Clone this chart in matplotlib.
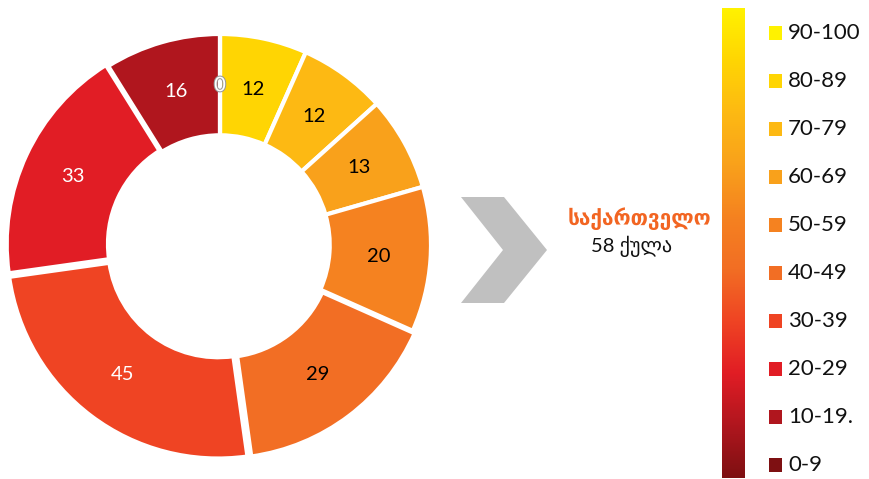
import matplotlib.pyplot as plt
import matplotlib.patheffects as pe
import numpy as np
from matplotlib.colors import LinearSegmentedColormap
from matplotlib.patches import Polygon

plt.rcParams['font.family'] = ['Lato', 'DejaVu Sans']

# score bands, top of the legend first
bands = ['90-100', '80-89', '70-79', '60-69', '50-59',
         '40-49', '30-39', '20-29', '10-19.', '0-9']
counts = [0, 12, 12, 13, 20, 29, 45, 33, 16, 0]
colors = ['#FFF200', '#FFD503', '#FDB913', '#F9A11B', '#F58220',
          '#F26E24', '#EF4423', '#E11D25', '#B0161E', '#7E1012']
label_colors = ['white', 'black', 'black', 'black', 'black',
                'black', 'white', 'white', 'white', 'white']
explode = [0, 0, 0, 0, 0, 0.015, 0.015, 0.012, 0, 0]

country = 'საქართველო'
score_text = '58 ქულა'

W, H = 869, 479
fig = plt.figure(figsize=(W / 100, H / 100), dpi=100)

# donut
cx, cy, R = 220, 245, 211
lim = 1.06
ax = fig.add_axes([(cx - R * lim) / W, (H - cy - R * lim) / H,
                   2 * R * lim / W, 2 * R * lim / H])
wedges, _ = ax.pie(counts, colors=colors, startangle=90, counterclock=False,
                   explode=explode, radius=1.0,
                   wedgeprops=dict(width=0.48, edgecolor='white', linewidth=3))
ax.set_xlim(-lim, lim)
ax.set_ylim(-lim, lim)
ax.set_aspect('equal')
ax.axis('off')

zero_done = False
for w, n, tc in zip(wedges, counts, label_colors):
    if n == 0:
        if zero_done:
            continue
        zero_done = True
    ang = np.deg2rad((w.theta1 + w.theta2) / 2)
    r = 0.755
    cxw, cyw = w.center
    t = ax.text(cxw + r * np.cos(ang), cyw + r * np.sin(ang), str(n),
                ha='center', va='center', fontsize=14.5, color=tc)
    if n == 0:
        t.set_path_effects([pe.withStroke(linewidth=1.5, foreground='#999999')])

# chevron arrow
arrow = Polygon([(461 / W, 1 - 197 / H), (504 / W, 1 - 197 / H),
                 (547 / W, 1 - 250 / H), (504 / W, 1 - 303 / H),
                 (461 / W, 1 - 303 / H), (503 / W, 1 - 250 / H)],
                closed=True, transform=fig.transFigure,
                facecolor='#C0C0C0', edgecolor='none')
fig.patches.append(arrow)

fig.text(639 / W, 1 - 219 / H, country, ha='center', va='center',
         fontsize=15, color='#F26522', fontweight='bold')
fig.text(632 / W, 1 - 246 / H, score_text, ha='center', va='center',
         fontsize=14.5, color='#111111')

# gradient bar
cax = fig.add_axes([722 / W, (H - 478) / H, 23 / W, 470 / H])
cmap = LinearSegmentedColormap.from_list('bands', colors)
grad = np.linspace(0, 1, 256).reshape(-1, 1)
cax.imshow(grad, aspect='auto', cmap=cmap, origin='upper')
cax.axis('off')

# legend squares and labels
row_h = 48
lax = fig.add_axes([760 / W, (H - (9 + row_h * len(bands))) / H,
                    (W - 760) / W, row_h * len(bands) / H])
lax.set_xlim(0, W - 760)
lax.set_ylim(len(bands) - 0.5, -0.5)
lax.axis('off')
ypos = np.arange(len(bands))
lax.scatter(np.full(len(bands), 15.5), ypos, marker='s', s=100,
            c=colors, linewidths=0)
for y, b in zip(ypos, bands):
    lax.text(28, y, b, ha='left', va='center', fontsize=16, color='#111111')

fig.savefig('out.png', dpi=100)
